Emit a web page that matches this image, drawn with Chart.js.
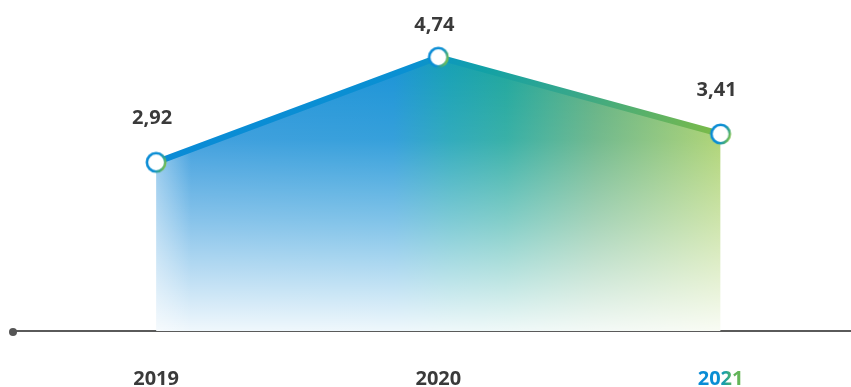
<!DOCTYPE html>
<html><head><meta charset="utf-8">
<style>html,body{margin:0;padding:0;background:#fff;overflow:hidden}canvas{display:block}</style>
<script src="https://cdn.jsdelivr.net/npm/chart.js@4.4.0/dist/chart.umd.min.js"></script>
</head><body><canvas id="c" width="851" height="387" style="width:851px;height:387px"></canvas>
<script>
const years = ['2019', '2020', '2021'];
const values = [2.92, 4.74, 3.41];
const valueLabels = ['2,92', '4,74', '3,41'];

const FONT = "'Open Sans', 'DejaVu Sans', sans-serif";
const TEXT = '#3a3a3a';

function ringImage() {
  const c = document.createElement('canvas');
  c.width = 26; c.height = 26;
  const g = c.getContext('2d');
  const grad = g.createLinearGradient(3, 9, 23, 17);
  grad.addColorStop(0, '#0a8bd6');
  grad.addColorStop(0.55, '#0b8fd3');
  grad.addColorStop(0.8, '#3aa785');
  grad.addColorStop(1, '#8cc63f');
  g.beginPath();
  g.arc(13, 13, 9.2, 0, Math.PI * 2);
  g.fillStyle = '#fff';
  g.fill();
  g.lineWidth = 2.6;
  g.strokeStyle = grad;
  g.stroke();
  return c;
}
const ring = ringImage();

let patCache = null;
function fillPattern(chart) {
  const area = chart.chartArea;
  if (!area) return 'rgba(0,0,0,0)';
  const xs = chart.scales.x, ys = chart.scales.y;
  const key = chart.width + 'x' + chart.height + ':' + area.left + ':' + area.right + ':' + area.bottom;
  if (patCache && patCache.key === key) return patCache.pat;
  const off = document.createElement('canvas');
  off.width = chart.width; off.height = chart.height;
  const g = off.getContext('2d');
  const x0 = xs.getPixelForValue(0), x2 = xs.getPixelForValue(values.length - 1);
  const yTop = ys.getPixelForValue(Math.max(...values)), yBot = ys.getPixelForValue(0);
  const h = g.createLinearGradient(x0, 0, x2, 0);
  h.addColorStop(0, '#2a93da');
  h.addColorStop(0.42, '#1a93d6');
  h.addColorStop(0.52, '#16a0b4');
  h.addColorStop(0.62, '#1ea69c');
  h.addColorStop(0.78, '#5fb07f');
  h.addColorStop(1, '#a6cf66');
  g.fillStyle = h;
  g.fillRect(0, 0, chart.width, chart.height);
  const v = g.createLinearGradient(0, yTop, 0, yBot);
  v.addColorStop(0, 'rgba(255,255,255,0)');
  v.addColorStop(0.3, 'rgba(255,255,255,0.12)');
  v.addColorStop(0.6, 'rgba(255,255,255,0.45)');
  v.addColorStop(1, 'rgba(255,255,255,0.93)');
  g.fillStyle = v;
  g.fillRect(0, 0, chart.width, chart.height);
  const l = g.createLinearGradient(x0, 0, x0 + 35, 0);
  l.addColorStop(0, 'rgba(255,255,255,0.4)');
  l.addColorStop(1, 'rgba(255,255,255,0)');
  g.fillStyle = l;
  g.fillRect(x0, 0, 35, chart.height);
  const pat = chart.ctx.createPattern(off, 'no-repeat');
  patCache = { key, pat };
  return pat;
}

function lineGradient(chart) {
  const area = chart.chartArea;
  if (!area) return '#0a8bd6';
  const xs = chart.scales.x;
  const x0 = xs.getPixelForValue(0), x2 = xs.getPixelForValue(values.length - 1);
  const g = chart.ctx.createLinearGradient(x0, 0, x2, 0);
  g.addColorStop(0, '#0a8bd6');
  g.addColorStop(0.45, '#0a90d2');
  g.addColorStop(0.58, '#12a1a6');
  g.addColorStop(0.75, '#3aa888');
  g.addColorStop(1, '#7dbb45');
  return g;
}

function tickGradient(chart) {
  // tick labels are drawn after translating to the label anchor, so use local coords
  const g = chart.ctx.createLinearGradient(-23, 0, 23, 0);
  g.addColorStop(0, '#0a8bd6');
  g.addColorStop(0.45, '#0a8fd3');
  g.addColorStop(0.62, '#22a49a');
  g.addColorStop(0.75, '#5db35e');
  g.addColorStop(1, '#6ab652');
  return g;
}

const labelsPlugin = {
  id: 'valueLabels',
  afterDatasetsDraw(chart) {
    const ctx = chart.ctx;
    const meta = chart.getDatasetMeta(0);
    ctx.save();
    ctx.font = 'bold 20px ' + FONT;
    ctx.fillStyle = TEXT;
    ctx.textAlign = 'center';
    ctx.textBaseline = 'middle';
    meta.data.forEach((pt, i) => {
      const y = Math.max(pt.y - 44, chart.chartArea.top + 25);
      ctx.fillText(valueLabels[i], pt.x - 4, y);
    });
    ctx.restore();
  }
};

const axisDot = {
  id: 'axisDot',
  afterDraw(chart) {
    const xs = chart.scales.x;
    const ctx = chart.ctx;
    ctx.save();
    ctx.fillStyle = '#555';
    ctx.beginPath();
    ctx.arc(xs.left, xs.top + 1, 4, 0, Math.PI * 2);
    ctx.fill();
    ctx.restore();
  }
};

const pts = values.map((v, i) => ({ x: i, y: v }));

new Chart(document.getElementById('c'), {
  type: 'line',
  data: {
    datasets: [{
      data: pts,
      borderColor: (c) => lineGradient(c.chart),
      backgroundColor: (c) => fillPattern(c.chart),
      borderWidth: 6,
      fill: 'origin',
      tension: 0,
      pointStyle: ring,
      pointRadius: 10,
      pointHoverRadius: 10
    }]
  },
  options: {
    responsive: false,
    maintainAspectRatio: false,
    devicePixelRatio: 1,
    animation: false,
    events: [],
    layout: { autoPadding: false, padding: { left: 13, right: 0, top: 0, bottom: 0 } },
    plugins: { legend: { display: false }, tooltip: { enabled: false } },
    scales: {
      x: {
        type: 'linear',
        min: -0.507,
        max: 2.462,
        afterBuildTicks: (s) => { s.ticks = years.map((_, i) => ({ value: i })); },
        afterFit: (s) => { s.height = 56; s.paddingLeft = 0; s.paddingRight = 0; },
        grid: { display: false, drawTicks: false },
        border: { display: true, color: '#5a5a5a', width: 2 },
        ticks: {
          autoSkip: false,
          maxRotation: 0,
          padding: 38,
          font: { family: FONT, size: 20, weight: 'bold', lineHeight: 1 },
          color: (c) => c.index === years.length - 1 ? tickGradient(c.chart) : TEXT,
          callback: (v) => years[v]
        }
      },
      y: {
        display: false,
        min: 0,
        max: 5.73
      }
    }
  },
  plugins: [labelsPlugin, axisDot]
});
</script>
</body></html>
